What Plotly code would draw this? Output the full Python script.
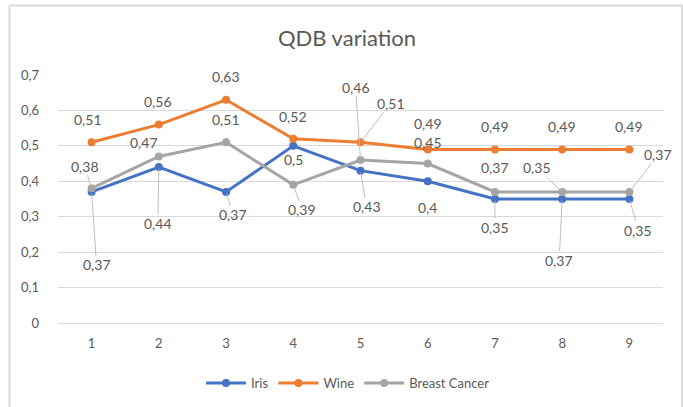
import plotly.graph_objects as go

# Chart data
steps = [1, 2, 3, 4, 5, 6, 7, 8, 9]
iris = [0.37, 0.44, 0.37, 0.50, 0.43, 0.40, 0.35, 0.35, 0.35]
wine = [0.51, 0.56, 0.63, 0.52, 0.51, 0.49, 0.49, 0.49, 0.49]
breast_cancer = [0.38, 0.47, 0.51, 0.39, 0.46, 0.45, 0.37, 0.37, 0.37]
y_ticks = [0, 0.1, 0.2, 0.3, 0.4, 0.5, 0.6, 0.7]

# Data label text as shown on each point (Excel-style, some labels swapped)
iris_labels = [0.37, 0.44, 0.37, 0.5, 0.43, 0.4, 0.35, 0.37, 0.35]
bc_labels = [0.38, 0.47, 0.51, 0.39, 0.46, 0.45, 0.37, 0.35, 0.37]
wine_labels = wine

# Label offsets in pixels (dx, dy) and whether a leader line is drawn
iris_off = [(5, 73, True), (-1, 56, True), (7, 23, True), (0, 14, False), (6, 36, True),
            (0, 26, False), (0, 28, True), (-3, 61, True), (9, 31, True)]
wine_off = [(-4, -23, False), (-1, -23, False), (0, -23, False), (0, -22, False), (30, -39, True),
            (0, -26, False), (0, -23, False), (0, -23, False), (0, -23, False)]
bc_off = [(-7, -22, True), (-15, -14, False), (0, -23, False), (9, 25, True), (-5, -73, True),
          (0, -21, False), (0, -24, False), (-25, -24, True), (29, -37, True)]

W, H = 683, 407
ML, MR, MT, MB = 58, 20, 75, 84
TEXT = "#595959"
GRID = "#D9D9D9"
FONT = "Lato, Carlito, Calibri, sans-serif"

series = [
    ("Iris", iris, "#4472C4"),
    ("Wine", wine, "#ED7D31"),
    ("Breast Cancer", breast_cancer, "#A5A5A5"),
]

fig = go.Figure()
for name, vals, color in series:
    fig.add_trace(go.Scatter(
        x=steps, y=vals, name=name, mode="lines+markers",
        line=dict(color=color, width=3),
        marker=dict(color=color, size=8, symbol="circle"),
        hoverinfo="skip",
    ))

def fmt(v):
    return f"{v:g}".replace(".", ",")

annotations = []
for vals, labels, offs in [(iris, iris_labels, iris_off),
                           (wine, wine_labels, wine_off),
                           (breast_cancer, bc_labels, bc_off)]:
    for xv, yv, lab, (dx, dy, leader) in zip(steps, vals, labels, offs):
        annotations.append(dict(
            x=xv, y=yv, xref="x", yref="y", text=fmt(lab),
            showarrow=True, ax=dx, ay=dy, arrowhead=0, arrowwidth=1,
            arrowcolor="#BFBFBF" if leader else "rgba(0,0,0,0)",
            standoff=2, startstandoff=0,
            borderpad=0,
            font=dict(family=FONT, size=14, color=TEXT),
        ))

# Light chart-area border (top, left, right)
pw = W - ML - MR
ph = H - MT - MB
def px_x(p):
    return (p - ML) / pw
def px_y(p):
    return 1 - (p - MT) / ph

border = dict(color=GRID, width=2)
shapes = [
    dict(type="line", xref="paper", yref="paper", x0=px_x(9.5), x1=px_x(683), y0=px_y(5.5), y1=px_y(5.5), line=border),
    dict(type="line", xref="paper", yref="paper", x0=px_x(9.5), x1=px_x(9.5), y0=px_y(5.5), y1=px_y(410), line=border),
    dict(type="line", xref="paper", yref="paper", x0=px_x(682), x1=px_x(682), y0=px_y(5.5), y1=px_y(410), line=border),
]

fig.update_layout(
    width=W, height=H,
    margin=dict(l=ML, r=MR, t=MT, b=MB),
    paper_bgcolor="white", plot_bgcolor="white",
    separators=",.",
    font=dict(family=FONT, size=13, color=TEXT),
    title=dict(text="QDB variation", x=347 / W, xref="container", xanchor="center",
               y=1 - 38 / H, yref="container", yanchor="middle",
               font=dict(family=FONT, size=22, color=TEXT)),
    xaxis=dict(
        range=[0.5, 9.5], tickvals=steps, ticktext=[str(s) for s in steps],
        showgrid=False, zeroline=False, showline=False,
        ticks="", ticklabelstandoff=11,
        tickfont=dict(family=FONT, size=13, color=TEXT),
        fixedrange=True,
    ),
    yaxis=dict(
        range=[0, 0.7], tickvals=y_ticks, ticktext=[fmt(t) for t in y_ticks],
        showgrid=True, gridcolor=GRID, gridwidth=1,
        zeroline=True, zerolinecolor=GRID, zerolinewidth=1,
        showline=False, ticks="", ticklabelstandoff=18,
        tickfont=dict(family=FONT, size=13, color=TEXT),
        fixedrange=True,
    ),
    legend=dict(
        orientation="h", xref="container", yref="container",
        x=348 / W, xanchor="center", y=1 - 383 / H, yanchor="middle",
        font=dict(family=FONT, size=13, color=TEXT),
        itemwidth=40, tracegroupgap=0,
    ),
    annotations=annotations,
    shapes=shapes,
)

fig.write_html("out.html")
